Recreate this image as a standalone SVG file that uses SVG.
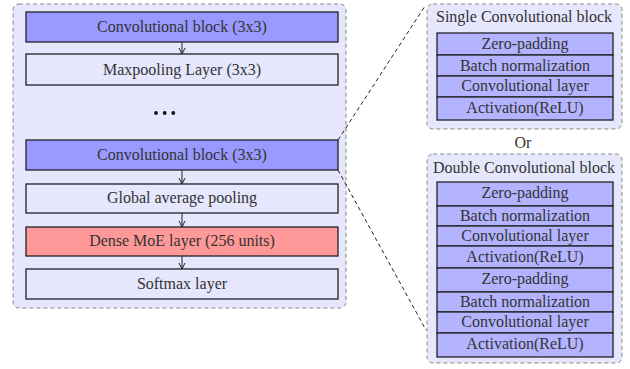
<svg xmlns="http://www.w3.org/2000/svg" width="630" height="369" viewBox="0 0 630 369">
<defs>
<marker id="ah" viewBox="0 0 8 8" refX="7" refY="4" markerWidth="8" markerHeight="8" markerUnits="userSpaceOnUse" orient="auto">
<path d="M1,1 L7,4 L1,7" fill="none" stroke="#222" stroke-width="1"/>
</marker>
<style>
.cont{fill:#e6e6fc;stroke:#888;stroke-width:1;stroke-dasharray:4 3}
.box{stroke:#222;stroke-width:1.3}
.dark{fill:#9999ff}
.light{fill:#e6e6fc}
.red{fill:#ff9999}
.row{fill:#b3b3ff;stroke:#222;stroke-width:1.3}
text{font-family:'Liberation Serif',serif;font-size:16px;fill:#333;text-anchor:middle}
.arr{stroke:#222;stroke-width:1;fill:none;marker-end:url(#ah)}
.zoom{stroke:#222;stroke-width:1;stroke-dasharray:4 3;fill:none}
</style>
</defs>
<g id="main-container">
<rect class="cont" x="13" y="4" width="333" height="304" rx="6"/>
</g>
<g id="conv1"><rect class="box dark" x="26" y="12" width="312" height="30"/><text x="182" y="32">Convolutional block (3x3)</text></g>
<g id="maxpool"><rect class="box light" x="26" y="54" width="312" height="31"/><text x="182" y="75">Maxpooling Layer (3x3)</text></g>
<g id="dots"><circle cx="156" cy="113" r="1.9" fill="#111"/><circle cx="164.7" cy="113" r="1.9" fill="#111"/><circle cx="173.3" cy="113" r="1.9" fill="#111"/></g>
<g id="conv2"><rect class="box dark" x="26" y="140" width="312" height="30"/><text x="182" y="160">Convolutional block (3x3)</text></g>
<g id="gap"><rect class="box light" x="26" y="184" width="312" height="29"/><text x="182" y="203">Global average pooling</text></g>
<g id="dense"><rect class="box red" x="26" y="227" width="312" height="29"/><text x="182" y="246">Dense MoE layer (256 units)</text></g>
<g id="softmax"><rect class="box light" x="26" y="269" width="312" height="30"/><text x="182" y="289">Softmax layer</text></g>

<g id="single">
<rect class="cont" x="427" y="4" width="195" height="125" rx="6"/>
<text x="524" y="22">Single Convolutional block</text>
<rect class="row" x="437" y="33" width="176" height="22"/><text x="525" y="49">Zero-padding</text>
<rect class="row" x="437" y="55" width="176" height="21"/><text x="525" y="71">Batch normalization</text>
<rect class="row" x="437" y="76" width="176" height="21"/><text x="525" y="91">Convolutional layer</text>
<rect class="row" x="437" y="97" width="176" height="23"/><text x="525" y="113">Activation(ReLU)</text>
</g>
<g id="or"><text x="523" y="148">Or</text></g>
<g id="double">
<rect class="cont" x="427" y="154" width="195" height="209" rx="6"/>
<text x="524" y="173">Double Convolutional block</text>
<rect class="row" x="437" y="182" width="176" height="24"/><text x="525" y="198">Zero-padding</text>
<rect class="row" x="437" y="206" width="176" height="20"/><text x="525" y="221">Batch normalization</text>
<rect class="row" x="437" y="226" width="176" height="20"/><text x="525" y="241">Convolutional layer</text>
<rect class="row" x="437" y="246" width="176" height="22"/><text x="525" y="262">Activation(ReLU)</text>
<rect class="row" x="437" y="268" width="176" height="24"/><text x="525" y="284">Zero-padding</text>
<rect class="row" x="437" y="292" width="176" height="20"/><text x="525" y="307">Batch normalization</text>
<rect class="row" x="437" y="312" width="176" height="21"/><text x="525" y="327">Convolutional layer</text>
<rect class="row" x="437" y="333" width="176" height="24"/><text x="525" y="349">Activation(ReLU)</text>
</g>

<g id="connectors">
<line class="arr" x1="182" y1="42" x2="182" y2="54"/>
<line class="arr" x1="182" y1="170" x2="182" y2="184"/>
<line class="arr" x1="182" y1="213" x2="182" y2="227"/>
<line class="arr" x1="182" y1="256" x2="182" y2="269"/>
<line class="zoom" x1="338" y1="140" x2="425" y2="6"/>
<line class="zoom" x1="338" y1="170" x2="426" y2="330"/>
</g>
</svg>
